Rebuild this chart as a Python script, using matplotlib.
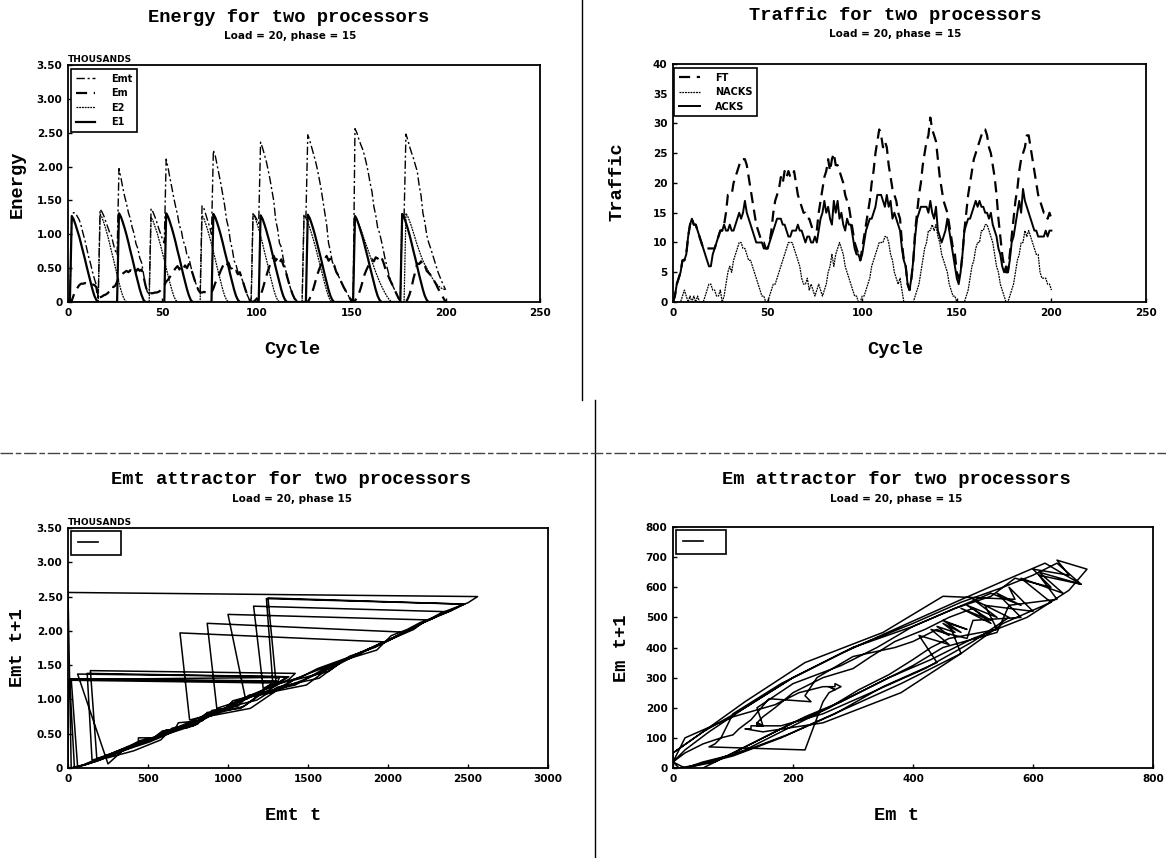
import numpy as np
import matplotlib
matplotlib.use("Agg")
import matplotlib.pyplot as plt
from matplotlib.lines import Line2D

# energy per cycle (thousands), cycles 0..200
E1 = [0, 0, 1.27, 1.22, 1.14, 1.05, 0.96, 0.85, 0.74, 0.63,
      0.51, 0.40, 0.29, 0.18, 0.09, 0.03, 0, 0, 0, 0,
      0, 0, 0, 0, 0, 0, 0, 1.31, 1.26, 1.18,
      1.09, 0.99, 0.88, 0.76, 0.65, 0.53, 0.41, 0.30, 0.19, 0.10,
      0.03, 0, 0, 0, 0, 0, 0, 0, 0, 0,
      0, 0, 1.31, 1.26, 1.18, 1.09, 0.99, 0.88, 0.76, 0.65,
      0.53, 0.41, 0.30, 0.19, 0.10, 0.03, 0, 0, 0, 0,
      0, 0, 0, 0, 0, 0, 0, 1.30, 1.25, 1.17,
      1.08, 0.98, 0.87, 0.75, 0.64, 0.52, 0.40, 0.29, 0.18, 0.09,
      0.03, 0, 0, 0, 0, 0, 0, 0, 0, 0,
      0, 0, 1.28, 1.23, 1.15, 1.06, 0.96, 0.86, 0.74, 0.63,
      0.51, 0.40, 0.29, 0.18, 0.09, 0.03, 0, 0, 0, 0,
      0, 0, 0, 0, 0, 0, 0, 1.29, 1.24, 1.16,
      1.07, 0.97, 0.86, 0.75, 0.64, 0.52, 0.40, 0.29, 0.18, 0.09,
      0.03, 0, 0, 0, 0, 0, 0, 0, 0, 0,
      0, 0, 1.27, 1.22, 1.14, 1.05, 0.96, 0.85, 0.74, 0.63,
      0.51, 0.40, 0.29, 0.18, 0.09, 0.03, 0, 0, 0, 0,
      0, 0, 0, 0, 0, 0, 0, 1.30, 1.25, 1.17,
      1.08, 0.98, 0.87, 0.75, 0.64, 0.52, 0.40, 0.29, 0.18, 0.09,
      0.03, 0, 0, 0, 0, 0, 0, 0, 0, 0,
      0]

E2 = [0, 0, 0, 0, 0, 0, 0, 0, 0, 0,
      0, 0, 0, 0, 0, 0, 0, 1.30, 1.25, 1.17,
      1.08, 0.98, 0.87, 0.75, 0.64, 0.52, 0.40, 0.29, 0.18, 0.09,
      0.03, 0, 0, 0, 0, 0, 0, 0, 0, 0,
      0, 0, 0, 0, 1.25, 1.20, 1.12, 1.04, 0.94, 0.84,
      0.73, 0.62, 0.50, 0.39, 0.28, 0.18, 0.09, 0.03, 0, 0,
      0, 0, 0, 0, 0, 0, 0, 0, 0, 0,
      0, 1.28, 1.23, 1.15, 1.06, 0.96, 0.86, 0.74, 0.63, 0.51,
      0.40, 0.29, 0.18, 0.09, 0.03, 0, 0, 0, 0, 0,
      0, 0, 0, 0, 0, 0, 0, 0, 1.30, 1.25,
      1.17, 1.08, 0.98, 0.87, 0.75, 0.64, 0.52, 0.40, 0.29, 0.18,
      0.09, 0.03, 0, 0, 0, 0, 0, 0, 0, 0,
      0, 0, 0, 0, 0, 1.28, 1.24, 1.18, 1.10, 1.01,
      0.92, 0.82, 0.71, 0.60, 0.49, 0.38, 0.27, 0.17, 0.08, 0.02,
      0, 0, 0, 0, 0, 0, 0, 0, 0, 0,
      0, 0, 1.27, 1.22, 1.15, 1.08, 1.00, 0.92, 0.84, 0.76,
      0.68, 0.60, 0.52, 0.44, 0.37, 0.30, 0.24, 0.18, 0.13, 0.08,
      0.04, 0.01, 0, 0, 0, 0, 0, 0, 0, 1.31,
      1.26, 1.19, 1.11, 1.02, 0.93, 0.84, 0.76, 0.68, 0.61, 0.55,
      0.50, 0.45, 0.40, 0.35, 0.31, 0.27, 0.24, 0.22, 0.20, 0.19,
      0.18]

Em = [0, 0, 0.02, 0.10, 0.17, 0.21, 0.25, 0.27, 0.27, 0.28,
      0.27, 0.26, 0.27, 0.26, 0.25, 0.22, 0.06, 0.07, 0.08, 0.10,
      0.11, 0.13, 0.16, 0.23, 0.22, 0.24, 0.30, 0.37, 0.40, 0.42,
      0.44, 0.46, 0.44, 0.47, 0.45, 0.48, 0.45, 0.49, 0.46, 0.48,
      0.38, 0.25, 0.15, 0.12, 0.13, 0.13, 0.14, 0.14, 0.15, 0.17,
      0.20, 0.25, 0.30, 0.33, 0.37, 0.42, 0.46, 0.50, 0.53, 0.48,
      0.53, 0.49, 0.54, 0.50, 0.56, 0.50, 0.42, 0.33, 0.25, 0.18,
      0.14, 0.14, 0.15, 0.14, 0.14, 0.15, 0.14, 0.20, 0.28, 0.34,
      0.40, 0.47, 0.53, 0.58, 0.54, 0.58, 0.50, 0.49, 0.43, 0.46,
      0.41, 0.44, 0.35, 0.27, 0.18, 0.10, 0.04, 0.01, 0, 0.02,
      0.05, 0.08, 0.10, 0.18, 0.28, 0.38, 0.47, 0.55, 0.62, 0.68,
      0.61, 0.65, 0.58, 0.63, 0.55, 0.48, 0.38, 0.28, 0.19, 0.11,
      0.05, 0.02, 0, 0, 0, 0, 0, 0, 0.05, 0.12,
      0.20, 0.30, 0.40, 0.48, 0.55, 0.60, 0.64, 0.68, 0.61, 0.64,
      0.56, 0.54, 0.45, 0.40, 0.34, 0.28, 0.22, 0.17, 0.12, 0.07,
      0.02, 0, 0.02, 0.06, 0.12, 0.20, 0.30, 0.40, 0.47, 0.53,
      0.57, 0.63, 0.60, 0.66, 0.64, 0.69, 0.66, 0.59, 0.50, 0.43,
      0.36, 0.30, 0.24, 0.18, 0.12, 0.06, 0.02, 0, 0, 0,
      0.05, 0.12, 0.22, 0.35, 0.45, 0.57, 0.56, 0.60, 0.52, 0.54,
      0.46, 0.43, 0.40, 0.36, 0.31, 0.26, 0.20, 0.15, 0.10, 0.05,
      0]

Emt = [0, 0, 1.29, 1.32, 1.31, 1.26, 1.21, 1.12, 1.01, 0.91,
       0.78, 0.66, 0.56, 0.44, 0.34, 0.25, 0.06, 1.37, 1.33, 1.27,
       1.19, 1.11, 1.03, 0.98, 0.86, 0.76, 0.70, 1.97, 1.84, 1.69,
       1.56, 1.45, 1.32, 1.23, 1.10, 1.01, 0.86, 0.79, 0.65, 0.58,
       0.41, 0.25, 0.15, 0.12, 1.38, 1.33, 1.26, 1.18, 1.09, 1.01,
       0.93, 0.87, 2.11, 1.98, 1.83, 1.69, 1.54, 1.41, 1.29, 1.13,
       1.06, 0.90, 0.84, 0.69, 0.66, 0.53, 0.42, 0.33, 0.25, 0.18,
       0.14, 1.42, 1.38, 1.29, 1.20, 1.11, 1.00, 2.24, 2.16, 2.02,
       1.88, 1.74, 1.58, 1.42, 1.21, 1.10, 0.90, 0.78, 0.61, 0.55,
       0.44, 0.44, 0.35, 0.27, 0.18, 0.10, 0.04, 0.01, 1.30, 1.27,
       1.22, 1.16, 2.36, 2.28, 2.18, 2.08, 1.95, 1.81, 1.65, 1.49,
       1.21, 1.08, 0.87, 0.81, 0.64, 0.51, 0.38, 0.28, 0.19, 0.11,
       0.05, 0.02, 0, 0, 0, 1.28, 1.24, 2.47, 2.39, 2.29,
       2.19, 2.09, 1.97, 1.83, 1.68, 1.50, 1.31, 1.14, 0.87, 0.75,
       0.59, 0.54, 0.45, 0.40, 0.34, 0.28, 0.22, 0.17, 0.12, 0.07,
       0.02, 0, 2.56, 2.50, 2.41, 2.33, 2.26, 2.17, 2.05, 1.92,
       1.76, 1.63, 1.41, 1.28, 1.10, 1.02, 0.90, 0.77, 0.63, 0.51,
       0.40, 0.31, 0.24, 0.18, 0.12, 0.06, 0.02, 1.30, 1.25, 2.48,
       2.39, 2.29, 2.20, 2.12, 2.02, 1.93, 1.72, 1.57, 1.31, 1.18,
       0.99, 0.88, 0.80, 0.71, 0.62, 0.53, 0.44, 0.37, 0.30, 0.24,
       0.18]

# traffic per cycle
FT = [0, 1, 3, 4, 5, 7, 7, 8, 11, 13,
      14, 13, 13, 12, 11, 10, 9, 9, 9, 9,
      9, 9, 9, 10, 11, 12, 12, 13, 15, 18,
      18, 18, 20, 21, 22, 23, 24, 24, 24, 23,
      21, 19, 17, 15, 13, 12, 11, 10, 10, 9,
      9, 10, 12, 15, 17, 18, 19, 21, 20, 22,
      21, 22, 21, 21, 22, 20, 18, 17, 16, 15,
      15, 14, 14, 13, 12, 12, 12, 15, 17, 19,
      21, 22, 24, 22, 24, 25, 23, 23, 22, 21,
      20, 18, 17, 16, 14, 12, 10, 9, 8, 7,
      9, 11, 13, 15, 17, 20, 22, 25, 27, 29,
      28, 26, 27, 26, 23, 21, 19, 18, 17, 15,
      14, 10, 7, 6, 3, 2, 4, 7, 12, 15,
      18, 20, 23, 25, 27, 28, 31, 29, 28, 27,
      24, 21, 19, 17, 16, 15, 13, 11, 9, 8,
      5, 4, 5, 8, 12, 15, 18, 20, 22, 24,
      25, 26, 27, 28, 29, 29, 28, 26, 25, 23,
      21, 18, 14, 11, 8, 6, 5, 5, 8, 11,
      14, 17, 19, 22, 24, 25, 26, 28, 28, 26,
      24, 22, 20, 18, 17, 16, 15, 15, 14, 15,
      14]

NACKS = [0, 0, 0, 0, 0, 1, 2, 1, 0, 1,
         0, 1, 0, 1, 0, 0, 0, 1, 2, 3,
         3, 2, 2, 1, 1, 2, 0, 1, 3, 5,
         6, 5, 7, 8, 9, 10, 10, 9, 9, 8,
         7, 7, 6, 5, 4, 3, 2, 1, 1, 0,
         0, 1, 2, 3, 3, 4, 5, 6, 7, 8,
         9, 10, 10, 10, 9, 8, 7, 6, 4, 3,
         3, 4, 2, 3, 2, 1, 2, 3, 2, 1,
         2, 3, 5, 6, 8, 6, 8, 9, 10, 9,
         8, 6, 5, 4, 3, 2, 1, 1, 0, 0,
         1, 1, 2, 3, 4, 6, 7, 8, 9, 10,
         10, 10, 11, 11, 10, 8, 7, 5, 4, 3,
         4, 2, 0, 0, 0, 0, 0, 0, 1, 2,
         3, 5, 7, 9, 10, 12, 12, 13, 12, 13,
         11, 10, 8, 7, 6, 5, 3, 2, 1, 1,
         0, 0, 0, 0, 0, 1, 2, 4, 6, 7,
         9, 10, 10, 12, 12, 13, 13, 12, 11, 10,
         8, 6, 5, 3, 2, 1, 0, 0, 1, 2,
         3, 5, 7, 8, 10, 10, 12, 11, 12, 11,
         10, 9, 8, 8, 5, 4, 4, 4, 3, 3,
         2]

ACKS = [0, 1, 3, 4, 5, 7, 7, 8, 11, 13,
        14, 13, 13, 12, 11, 10, 9, 8, 7, 6,
        6, 8, 9, 10, 11, 12, 12, 13, 12, 12,
        13, 12, 12, 13, 14, 15, 14, 15, 17, 15,
        14, 13, 12, 11, 10, 10, 10, 10, 9, 9,
        9, 10, 11, 12, 13, 14, 14, 14, 13, 13,
        12, 11, 11, 12, 12, 12, 13, 12, 12, 11,
        10, 11, 11, 10, 10, 11, 10, 12, 14, 15,
        17, 15, 16, 14, 13, 17, 15, 17, 14, 15,
        13, 12, 14, 13, 13, 11, 9, 8, 8, 7,
        8, 10, 12, 13, 14, 14, 15, 16, 18, 18,
        18, 17, 16, 18, 16, 17, 14, 15, 14, 13,
        12, 9, 7, 6, 3, 2, 4, 7, 11, 14,
        15, 16, 16, 16, 16, 15, 17, 15, 14, 16,
        12, 11, 10, 11, 12, 14, 12, 10, 8, 6,
        4, 3, 5, 8, 12, 13, 14, 14, 15, 16,
        17, 16, 17, 16, 16, 15, 15, 14, 15, 13,
        12, 11, 9, 8, 6, 5, 6, 5, 7, 10,
        11, 13, 15, 17, 15, 19, 17, 16, 15, 14,
        13, 12, 12, 11, 11, 11, 11, 12, 11, 12,
        12]

W, H = 1166, 858
TITLE_FONT = dict(family="Liberation Mono", weight="bold", size=13.5)
SUB_FONT = dict(family="DejaVu Sans", weight="bold", size=7.5)
TICK_FONT = dict(family="DejaVu Sans", weight="bold", size=7.5)
LEG_FONT = dict(family="DejaVu Sans", weight="bold", size=7)


def rect(x0, y0, x1, y1):
    return [x0 / W, 1 - y1 / H, (x1 - x0) / W, (y1 - y0) / H]


def ftext(x, y, s, rot=0, **kw):
    fig.text(x / W, 1 - y / H, s, ha="center", va="center", rotation=rot, **kw)


def style_axes(ax, xt, xl, yt, yl):
    ax.set_xticks(xt)
    ax.set_xticklabels(xl, **TICK_FONT)
    ax.set_yticks(yt)
    ax.set_yticklabels(yl, **TICK_FONT)
    ax.set_xlim(xt[0], xt[-1])
    ax.set_ylim(yt[0], yt[-1])
    ax.tick_params(direction="in", length=3, width=1, pad=4)
    for s in ax.spines.values():
        s.set_linewidth(1.3)


def legend_box(ax, handles, labels, x0, y0, **kw):
    bb = ax.get_position()
    ax_x0, ax_y1 = bb.x0 * W, (1 - bb.y1) * H
    leg = ax.legend(handles, labels, loc="upper left",
                    bbox_to_anchor=((x0 - ax_x0) / (bb.width * W),
                                    1 - (y0 - ax_y1) / (bb.height * H)),
                    borderaxespad=0, fancybox=False, framealpha=1,
                    edgecolor="black", prop=LEG_FONT, **kw)
    leg.get_frame().set_linewidth(1.2)
    return leg


fig = plt.figure(figsize=(W / 100, H / 100), dpi=100)

# ---------------- energy ----------------
ax1 = fig.add_axes(rect(68, 65, 540, 302))
l_emt, = ax1.plot(np.arange(len(Emt)), Emt, color="k", lw=1.0, dashes=(6, 2, 1.5, 2))
l_em, = ax1.plot(np.arange(len(Em)), Em, color="k", lw=1.6, dashes=(5, 3))
l_e2, = ax1.plot(np.arange(len(E2)), E2, color="k", lw=0.9, dashes=(1.5, 0.7))
l_e1, = ax1.plot(np.arange(len(E1)), E1, color="k", lw=1.6)
style_axes(ax1, [0, 50, 100, 150, 200, 250], ["0", "50", "100", "150", "200", "250"],
           [0, 0.5, 1, 1.5, 2, 2.5, 3, 3.5],
           ["0", "0.50", "1.00", "1.50", "2.00", "2.50", "3.00", "3.50"])
legend_box(ax1, [l_emt, l_em, l_e2, l_e1], ["Emt", "Em", "E2", "E1"], 71, 69,
           handlelength=2.0, handletextpad=1.6, labelspacing=0.45, borderpad=0.5)
ax1.text(0, 1.003, "THOUSANDS", transform=ax1.transAxes, ha="left", va="bottom",
         family="DejaVu Sans", weight="bold", size=6.5)
ftext(289, 17, "Energy for two processors", **TITLE_FONT)
ftext(290, 36, "Load = 20, phase = 15", **SUB_FONT)
ftext(292, 349, "Cycle", **TITLE_FONT)
ftext(17, 184, "Energy", rot=90, **TITLE_FONT)

# ---------------- traffic ----------------
ax2 = fig.add_axes(rect(673, 64, 1146, 302))
l_ft, = ax2.plot(np.arange(len(FT)), FT, color="k", lw=1.6, dashes=(5, 3))
l_na, = ax2.plot(np.arange(len(NACKS)), NACKS, color="k", lw=0.9, dashes=(1.5, 0.7))
l_ac, = ax2.plot(np.arange(len(ACKS)), ACKS, color="k", lw=1.4)
style_axes(ax2, [0, 50, 100, 150, 200, 250], ["0", "50", "100", "150", "200", "250"],
           [0, 5, 10, 15, 20, 25, 30, 35, 40],
           ["0", "5", "10", "15", "20", "25", "30", "35", "40"])
legend_box(ax2, [l_ft, l_na, l_ac], ["FT", "NACKS", "ACKS"], 674, 68,
           handlelength=2.2, handletextpad=1.5, labelspacing=0.45, borderpad=0.5)
ftext(895, 16, "Traffic for two processors", **TITLE_FONT)
ftext(895, 34, "Load = 20, phase = 15", **SUB_FONT)
ftext(895, 349, "Cycle", **TITLE_FONT)
ftext(617, 182, "Traffic", rot=90, **TITLE_FONT)

# ---------------- Emt attractor ----------------
emt = np.array(Emt)
ax3 = fig.add_axes(rect(68, 528, 548, 768))
ax3.plot(emt[:-1] * 1000, emt[1:], color="k", lw=1.1)
style_axes(ax3, [0, 500, 1000, 1500, 2000, 2500, 3000],
           ["0", "500", "1000", "1500", "2000", "2500", "3000"],
           [0, 0.5, 1, 1.5, 2, 2.5, 3, 3.5],
           ["0", "0.50", "1.00", "1.50", "2.00", "2.50", "3.00", "3.50"])
legend_box(ax3, [Line2D([], [], color="k", lw=1.2)], [" "], 71, 531,
           handlelength=2.1, handletextpad=1.3, borderpad=0.7)
ax3.text(0, 1.003, "THOUSANDS", transform=ax3.transAxes, ha="left", va="bottom",
         family="DejaVu Sans", weight="bold", size=6.5)
ftext(291, 479, "Emt attractor for two processors", **TITLE_FONT)
ftext(292, 499, "Load = 20, phase 15", **SUB_FONT)
ftext(293, 816, "Emt t", **TITLE_FONT)
ftext(17, 648, "Emt t+1", rot=90, **TITLE_FONT)

# ---------------- Em attractor ----------------
em = np.array(Em) * 1000
ax4 = fig.add_axes(rect(673, 527, 1153, 768))
ax4.plot(em[:-1], em[1:], color="k", lw=1.1)
style_axes(ax4, [0, 200, 400, 600, 800], ["0", "200", "400", "600", "800"],
           [0, 100, 200, 300, 400, 500, 600, 700, 800],
           ["0", "100", "200", "300", "400", "500", "600", "700", "800"])
legend_box(ax4, [Line2D([], [], color="k", lw=1.2)], [" "], 676, 530,
           handlelength=2.1, handletextpad=1.3, borderpad=0.7)
ftext(896, 479, "Em attractor for two processors", **TITLE_FONT)
ftext(896, 499, "Load = 20, phase = 15", **SUB_FONT)
ftext(897, 816, "Em t", **TITLE_FONT)
ftext(621, 648, "Em t+1", rot=90, **TITLE_FONT)

# page dividers
fig.add_artist(Line2D([582 / W, 582 / W], [1, 1 - 400 / H], color="k", lw=1.0))
fig.add_artist(Line2D([595 / W, 595 / W], [1 - 400 / H, 0], color="k", lw=1.0))
fig.add_artist(Line2D([0, 1], [1 - 453 / H, 1 - 453 / H], color="#444444", lw=1.0,
                      dashes=(9, 2, 4, 2)))

fig.savefig("out.png", dpi=100, facecolor="white")
